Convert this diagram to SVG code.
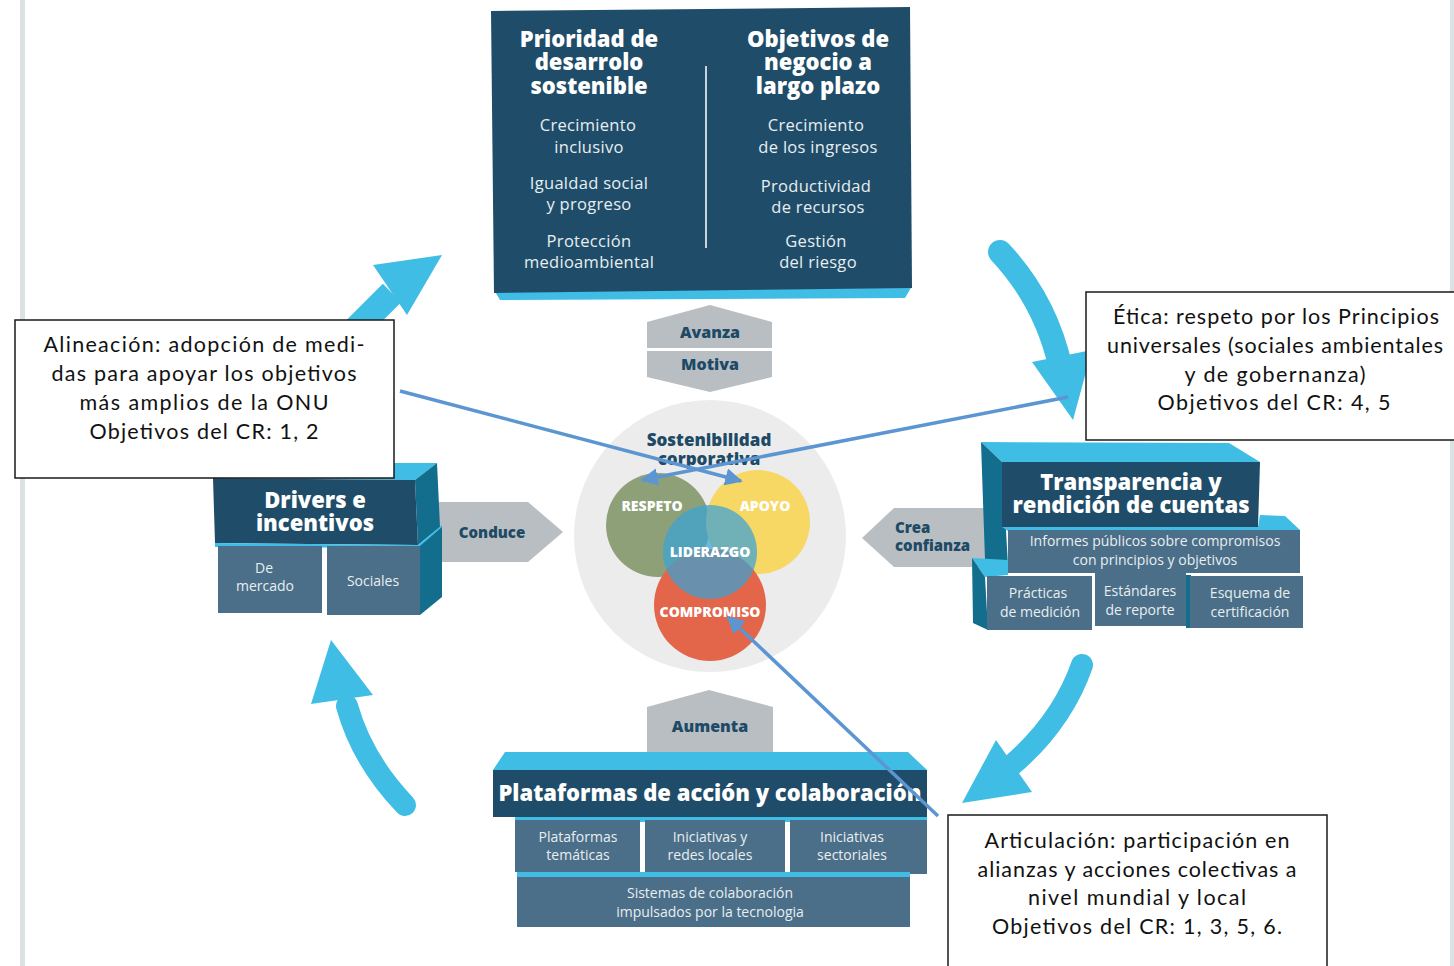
<svg xmlns="http://www.w3.org/2000/svg" width="1454" height="966" viewBox="0 0 1454 966">
<defs>
<style>
.navy{fill:#1f4d69}
.cyan{fill:#3fbde4}
.teal{fill:#136e8e}
.sub{fill:#4b6f88}
.gray{fill:#b9bec3}
.h{font-family:"Open Sans","Lato",sans-serif;font-weight:800;fill:#ffffff;text-anchor:middle}
.b{font-family:"Open Sans","Lato",sans-serif;fill:#e8eef1;text-anchor:middle}
.g{font-family:"Open Sans","Lato",sans-serif;font-weight:800;fill:#1e4a66;text-anchor:middle}
.c{font-family:"Lato","Noto Sans",sans-serif;font-size:21.5px;fill:#111;text-anchor:middle}
.box{fill:#ffffff;stroke:#1a1a1a;stroke-width:1.5}
.cw{font-family:"Open Sans","Lato",sans-serif;font-weight:800;fill:#ffffff;text-anchor:middle;font-size:14px}
.flow{fill:none;stroke:#3fbde4;stroke-linecap:round}
.conn{stroke:#5b96d2;stroke-width:3.5;fill:none}
</style>
<marker id="ah" viewBox="0 0 10 10" refX="9" refY="5" markerWidth="5" markerHeight="5" orient="auto" markerUnits="strokeWidth">
<path d="M0,0 L10,5 L0,10 z" fill="#5b96d2"/>
</marker>
</defs>
<rect width="1454" height="966" fill="#ffffff"/>
<rect x="20" y="0" width="5" height="966" fill="#dbe2e3"/>
<rect x="1450" y="0" width="4" height="966" fill="#dbe2e3"/>

<!-- cycle arrows -->
<g id="cycle-arrows">
<path d="M340,345 L392,293" stroke="#3fbde4" stroke-width="26" fill="none"/>
<polygon class="cyan" points="373,265 442,255 407,315"/>
<path class="flow" d="M1000,252 Q1045,300 1060,365" stroke-width="24"/>
<polygon class="cyan" points="1032,362 1092,350 1073,420"/>
<path class="flow" d="M1082,665 Q1062,722 1012,765" stroke-width="22"/>
<polygon class="cyan" points="996,740 1032,792 962,803"/>
<path class="flow" d="M405,805 Q362,760 347,706" stroke-width="22"/>
<polygon class="cyan" points="311,704 373,695 331,640"/>
</g>

<!-- top box -->
<g id="top-box">
<polygon class="cyan" points="494,290 912,286 905,298 500,300"/>
<polygon class="navy" points="491,11 910,7 912,288 494,293"/>
<line x1="706" y1="66" x2="706" y2="248" stroke="#c9d3da" stroke-width="2"/>
<text class="h" font-size="22"><tspan x="589" y="47">Prioridad de</tspan><tspan x="589" y="70">desarrolo</tspan><tspan x="589" y="94">sostenible</tspan></text>
<text class="h" font-size="22"><tspan x="818" y="47">Objetivos de</tspan><tspan x="818" y="70">negocio a</tspan><tspan x="818" y="94">largo plazo</tspan></text>
<text class="b" font-size="16.5" letter-spacing="0.3"><tspan x="588" y="131">Crecimiento</tspan><tspan x="589" y="153">inclusivo</tspan><tspan x="589" y="189">Igualdad social</tspan><tspan x="589" y="210">y progreso</tspan><tspan x="589" y="247">Protección</tspan><tspan x="589" y="268">medioambiental</tspan></text>
<text class="b" font-size="16.5" letter-spacing="0.3"><tspan x="816" y="131">Crecimiento</tspan><tspan x="818" y="153">de los ingresos</tspan><tspan x="816" y="192">Productividad</tspan><tspan x="818" y="213">de recursos</tspan><tspan x="816" y="247">Gestión</tspan><tspan x="818" y="268">del riesgo</tspan></text>
</g>

<!-- avanza/motiva -->
<g id="avanza-motiva">
<polygon class="gray" points="710,305 772,322 772,348 647,348 647,322"/>
<polygon class="gray" points="647,351 772,351 772,377 710,392 647,377"/>
<text class="g" font-size="16" x="710" y="338">Avanza</text>
<text class="g" font-size="16" x="710" y="370">Motiva</text>
</g>

<!-- center -->
<g id="sostenibilidad">
<circle cx="710" cy="536" r="136" fill="#ececec"/>
<text class="g" font-size="17" x="709" y="446">Sostenibilidad</text>
<text class="g" font-size="17" x="709" y="465">corporativa</text>
<circle cx="658" cy="525" r="52" fill="#8da078"/>
<circle cx="758" cy="522" r="52" fill="#f7d864"/>
<circle cx="710" cy="605" r="56" fill="#e3664a"/>
<circle cx="710" cy="552" r="47" fill="#3aa2d6" opacity="0.72"/>
<text class="cw" x="652" y="511">RESPETO</text>
<text class="cw" x="765" y="511">APOYO</text>
<text class="cw" x="710" y="557">LIDERAZGO</text>
<text class="cw" x="710" y="617">COMPROMISO</text>
</g>

<!-- drivers -->
<g id="drivers">
<polygon class="gray" points="438,502 528,502 563,532 528,562 438,562"/>
<text class="g" font-size="15" x="492" y="538">Conduce</text>
<polygon class="cyan" points="213,478 235,463 437,463 415,480"/>
<polygon class="teal" points="415,480 437,463 440,527 418,545"/>
<polygon class="navy" points="213,478 415,480 418,545 215,543"/>
<polygon class="cyan" points="215,543 418,545 442,525 442,530 420,548 215,547"/>
<polygon class="teal" points="420,546 442,527 442,597 420,615"/>
<rect class="sub" x="218" y="546" width="104" height="67"/>
<rect class="sub" x="327" y="546" width="93" height="69"/>
<text class="h" font-size="22"><tspan x="315" y="508">Drivers e</tspan><tspan x="315" y="531">incentivos</tspan></text>
<text class="b" font-size="14"><tspan x="264" y="573">De</tspan><tspan x="265" y="591">mercado</tspan><tspan x="373" y="586">Sociales</tspan></text>
</g>

<!-- transparencia -->
<g id="transparencia">
<polygon class="gray" points="985,508 894,508 862,538 894,567 985,567"/>
<text class="g" font-size="15" style="text-anchor:start" x="895" y="533">Crea</text>
<text class="g" font-size="15" style="text-anchor:start" x="895" y="551">confianza</text>
<polygon class="cyan" points="981,442 1229,443 1260,462 1002,462"/>
<polygon class="teal" points="981,442 1002,462 1008,565 985,560"/>
<polygon class="navy" points="1002,462 1260,462 1258,527 1002,527"/>
<polygon class="cyan" points="1002,527 1258,527 1260,515 1285,516 1300,530 1008,531"/>
<rect class="sub" x="1008" y="530" width="292" height="43"/>
<polygon class="cyan" points="972,558 1008,560 1008,575 985,577"/>
<polygon class="teal" points="972,558 985,577 988,630 973,623"/>
<rect class="sub" x="987" y="576" width="105" height="54"/>
<rect class="sub" x="1095" y="573" width="91" height="53"/>
<rect class="teal" x="1186" y="575" width="5" height="53"/>
<rect class="sub" x="1190" y="576" width="113" height="52"/>
<text class="h" font-size="22"><tspan x="1131" y="490">Transparencia y</tspan><tspan x="1131" y="513">rendición de cuentas</tspan></text>
<text class="b" font-size="14"><tspan x="1155" y="546">Informes públicos sobre compromisos</tspan><tspan x="1155" y="565">con principios y objetivos</tspan></text>
<text class="b" font-size="14"><tspan x="1038" y="598">Prácticas</tspan><tspan x="1040" y="617">de medición</tspan><tspan x="1140" y="596">Estándares</tspan><tspan x="1140" y="615">de reporte</tspan><tspan x="1250" y="598">Esquema de</tspan><tspan x="1250" y="617">certificación</tspan></text>
</g>

<!-- plataformas -->
<g id="plataformas">
<polygon class="gray" points="709,690 773,707 773,752 647,752 647,707"/>
<text class="g" font-size="16" x="710" y="732">Aumenta</text>
<polygon class="cyan" points="505,752 908,752 927,770 493,770"/>
<rect class="navy" x="493" y="770" width="434" height="47"/>
<rect class="cyan" x="515" y="817" width="412" height="5"/>
<rect class="sub" x="515" y="820" width="125" height="52"/>
<rect class="sub" x="645" y="820" width="140" height="54"/>
<rect class="sub" x="790" y="820" width="137" height="54"/>
<rect class="cyan" x="517" y="872" width="393" height="6"/>
<rect class="sub" x="517" y="877" width="393" height="50"/>
<text class="h" font-size="22" x="710" y="801">Plataformas de acción y colaboración</text>
<text class="b" font-size="14"><tspan x="578" y="842">Plataformas</tspan><tspan x="578" y="860">temáticas</tspan><tspan x="710" y="842">Iniciativas y</tspan><tspan x="710" y="860">redes locales</tspan><tspan x="852" y="842">Iniciativas</tspan><tspan x="852" y="860">sectoriales</tspan><tspan x="710" y="898">Sistemas de colaboración</tspan><tspan x="710" y="917">impulsados por la tecnologia</tspan></text>
</g>

<!-- callouts -->
<g id="callout-alineacion">
<rect class="box" x="15" y="320" width="379" height="158"/>
<text class="c"><tspan x="204" y="352" textLength="321" lengthAdjust="spacing">Alineación: adopción de medi-</tspan><tspan x="204" y="381" textLength="305" lengthAdjust="spacing">das para apoyar los objetivos</tspan><tspan x="204" y="410" textLength="249" lengthAdjust="spacing">más amplios de la ONU</tspan><tspan x="204" y="439" textLength="229" lengthAdjust="spacing">Objetivos del CR: 1, 2</tspan></text>
</g>
<g id="callout-etica">
<rect class="box" x="1086" y="292" width="370" height="148"/>
<text class="c"><tspan x="1276" y="324" textLength="326" lengthAdjust="spacing">Ética: respeto por los Principios</tspan><tspan x="1275" y="353" textLength="336" lengthAdjust="spacing">universales (sociales ambientales</tspan><tspan x="1275" y="382" textLength="181" lengthAdjust="spacing">y de gobernanza)</tspan><tspan x="1274" y="410" textLength="233" lengthAdjust="spacing">Objetivos del CR: 4, 5</tspan></text>
</g>
<g id="callout-articulacion">
<rect class="box" x="948" y="815" width="379" height="160"/>
<text class="c"><tspan x="1137" y="848" textLength="305" lengthAdjust="spacing">Articulación: participación en</tspan><tspan x="1137" y="877" textLength="319" lengthAdjust="spacing">alianzas y acciones colectivas a</tspan><tspan x="1137" y="905" textLength="218" lengthAdjust="spacing">nivel mundial y local</tspan><tspan x="1137" y="934" textLength="290" lengthAdjust="spacing">Objetivos del CR: 1, 3, 5, 6.</tspan></text>
</g>

<!-- connectors -->
<g id="connectors">
<line class="conn" x1="400" y1="391" x2="741" y2="481" marker-end="url(#ah)"/>
<line class="conn" x1="1068" y1="397" x2="642" y2="480" marker-end="url(#ah)"/>
<line class="conn" x1="938" y1="816" x2="728" y2="617" marker-end="url(#ah)"/>
</g>
</svg>
